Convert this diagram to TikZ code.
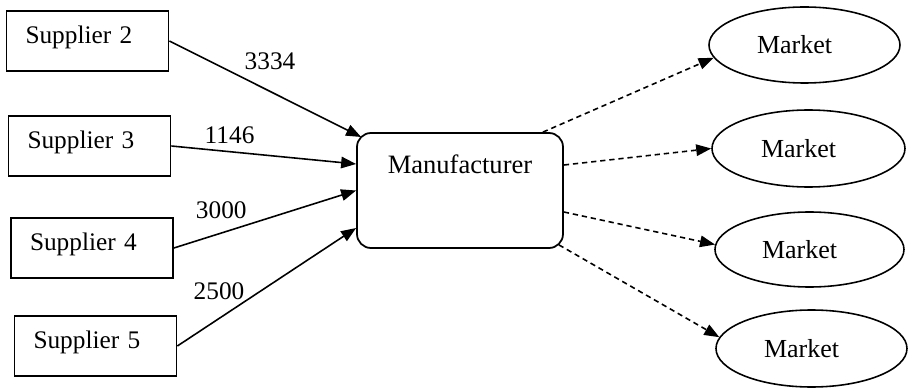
\documentclass[tikz,border=0pt]{standalone}
\usepackage{fontspec}
\setmainfont{Liberation Serif}
\usepackage{tikz}
\usetikzlibrary{arrows.meta,positioning,shapes.geometric,calc}

\tikzset{
  supplier/.style={draw, line width=1pt, minimum height=1.2cm, text width=2.48cm, inner xsep=0.38cm, align=left, text depth=0.25cm, font=\fontsize{14.4}{17}\selectfont},
  mfrbox/.style={draw, line width=1pt, rounded corners=0.28cm, minimum width=4.12cm, minimum height=2.3cm},
  market/.style={draw, ellipse, line width=0.9pt, inner sep=0pt, text width=1.9cm, align=left, font=\fontsize{14.8}{17}\selectfont},
  flow/.style={line width=0.9pt, ->},
  ship/.style={line width=0.9pt, dash pattern=on 3pt off 2.2pt, ->},
  qty/.style={inner sep=0pt, font=\fontsize{14.4}{17}\selectfont}
}

\begin{document}
\begin{tikzpicture}[>={Triangle[length=0.3cm,width=0.23cm]}]

\useasboundingbox (0,0) rectangle (18.18,7.76);

% suppliers
\node[supplier, minimum width=3.24cm] (sup2) at (1.75, 6.94) {Supplier 2};
\node[supplier, minimum width=3.24cm] (sup3) at (1.79, 4.84) {Supplier 3};
\node[supplier, minimum width=3.24cm] (sup4) at (1.84, 2.80) {Supplier 4};
\node[supplier, minimum width=3.24cm] (sup5) at (1.91, 0.84) {Supplier 5};

% manufacturer
\node[mfrbox, label={[anchor=north, yshift=-0.33cm, font=\fontsize{15.1}{18}\selectfont]north:Manufacturer}] (mfr) at (9.20, 3.95) {};

% markets
\node[market, minimum width=3.82cm, minimum height=1.52cm] (mkt1) at (16.09, 6.86) {Market};
\node[market, minimum width=3.86cm, minimum height=1.54cm] (mkt2) at (16.17, 4.79) {Market};
\node[market, minimum width=3.78cm, minimum height=1.50cm] (mkt3) at (16.19, 2.77) {Market};
\node[market, minimum width=3.82cm, minimum height=1.54cm] (mkt4) at (16.23, 0.79) {Market};

\draw[flow] (sup2.east) -- node[qty, pos=0.525, above=0.41cm]{3334} ([xshift=0.1cm, yshift=1.07cm]mfr.west);
\draw[flow] (sup3.east) -- node[qty, pos=0.315, above=0.15cm]{1146} ([yshift=0.53cm]mfr.west);
\draw[flow] (sup4.east) -- node[qty, pos=0.26, above=0.27cm]{3000} (mfr.west);
\draw[flow] (sup5.east) -- node[qty, pos=0.233, above=0.36cm]{2500} ([yshift=-0.75cm]mfr.west);

\draw[ship] ([xshift=-0.42cm]mfr.north east) -- (mkt1.188);
\draw[ship] ([yshift=0.51cm]mfr.east) -- (mkt2.west);
\draw[ship] ([yshift=-0.43cm]mfr.east) -- (mkt3.177);
\draw[ship] ([xshift=-0.1cm, yshift=0.08cm]mfr.south east) -- (mkt4.173);

\end{tikzpicture}
\end{document}
